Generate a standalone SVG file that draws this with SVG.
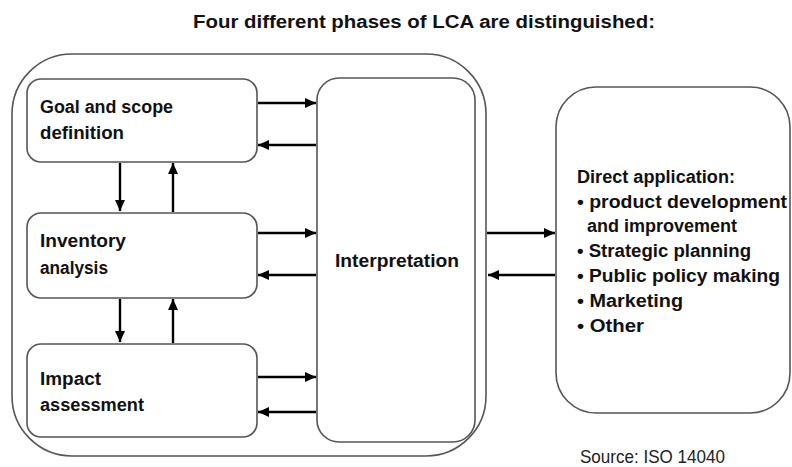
<svg xmlns="http://www.w3.org/2000/svg" width="792" height="467" viewBox="0 0 792 467">
<style>
.box{fill:#fff;stroke:#555;stroke-width:1.6}
.t{font-family:"Liberation Sans",Arial,sans-serif;font-weight:bold;font-size:18px;fill:#111}
.n{font-family:"Liberation Sans",Arial,sans-serif;font-size:19px;fill:#222}
.c{stroke:#000;stroke-width:2.4;fill:none;marker-end:url(#ah)}
</style>
<defs>
<marker id="ah" markerUnits="userSpaceOnUse" markerWidth="12" markerHeight="12" refX="11" refY="6" orient="auto">
<path d="M0,1 L11,6 L0,11 Z" fill="#000"/>
</marker>
</defs>
<rect width="792" height="467" fill="#fff"/>
<text class="t" x="424" y="28" text-anchor="middle" font-size="20" textLength="462" lengthAdjust="spacingAndGlyphs">Four different phases of LCA are distinguished:</text>
<g id="framework">
<rect class="box" x="12" y="54" width="474" height="402" rx="60" ry="60"/>
</g>
<g id="goal">
<rect class="box" x="27" y="79" width="230" height="83" rx="14"/>
<text class="t" x="40" y="113" textLength="133" lengthAdjust="spacingAndGlyphs">Goal and scope</text>
<text class="t" x="40" y="139" textLength="84" lengthAdjust="spacingAndGlyphs">definition</text>
</g>
<g id="inventory">
<rect class="box" x="27" y="213" width="230" height="85" rx="14"/>
<text class="t" x="40" y="247" textLength="86" lengthAdjust="spacingAndGlyphs">Inventory</text>
<text class="t" x="40" y="274" textLength="68" lengthAdjust="spacingAndGlyphs">analysis</text>
</g>
<g id="impact">
<rect class="box" x="27" y="344" width="230" height="93" rx="14"/>
<text class="t" x="40" y="385" textLength="61" lengthAdjust="spacingAndGlyphs">Impact</text>
<text class="t" x="40" y="411" textLength="104" lengthAdjust="spacingAndGlyphs">assessment</text>
</g>
<g id="interpretation">
<rect class="box" x="317" y="78" width="158" height="364" rx="22"/>
<text class="t" x="397" y="267" text-anchor="middle" textLength="124" lengthAdjust="spacingAndGlyphs">Interpretation</text>
</g>
<g id="application">
<rect class="box" x="556" y="87" width="234" height="326" rx="40"/>
<text class="t" x="577" y="183" textLength="158" lengthAdjust="spacingAndGlyphs">Direct application:</text>
<text class="t" x="577" y="208" textLength="210" lengthAdjust="spacingAndGlyphs">• product development</text>
<text class="t" x="587" y="232" textLength="150" lengthAdjust="spacingAndGlyphs">and improvement</text>
<text class="t" x="577" y="257" textLength="174" lengthAdjust="spacingAndGlyphs">• Strategic planning</text>
<text class="t" x="577" y="282" textLength="203" lengthAdjust="spacingAndGlyphs">• Public policy making</text>
<text class="t" x="577" y="307" textLength="106" lengthAdjust="spacingAndGlyphs">• Marketing</text>
<text class="t" x="577" y="332" textLength="67" lengthAdjust="spacingAndGlyphs">• Other</text>
</g>
<text class="n" x="580" y="463" textLength="145" lengthAdjust="spacingAndGlyphs">Source: ISO 14040</text>
<g id="connectors">
<line class="c" x1="258" y1="103" x2="316" y2="103"/>
<line class="c" x1="316" y1="145" x2="258" y2="145"/>
<line class="c" x1="258" y1="233" x2="316" y2="233"/>
<line class="c" x1="316" y1="275" x2="258" y2="275"/>
<line class="c" x1="258" y1="377" x2="316" y2="377"/>
<line class="c" x1="316" y1="412" x2="258" y2="412"/>
<line class="c" x1="120" y1="163" x2="120" y2="211"/>
<line class="c" x1="173" y1="212" x2="173" y2="163"/>
<line class="c" x1="120" y1="299" x2="120" y2="342"/>
<line class="c" x1="173" y1="343" x2="173" y2="299"/>
<line class="c" x1="487" y1="233" x2="555" y2="233"/>
<line class="c" x1="555" y1="275" x2="488" y2="275"/>
</g>
</svg>
